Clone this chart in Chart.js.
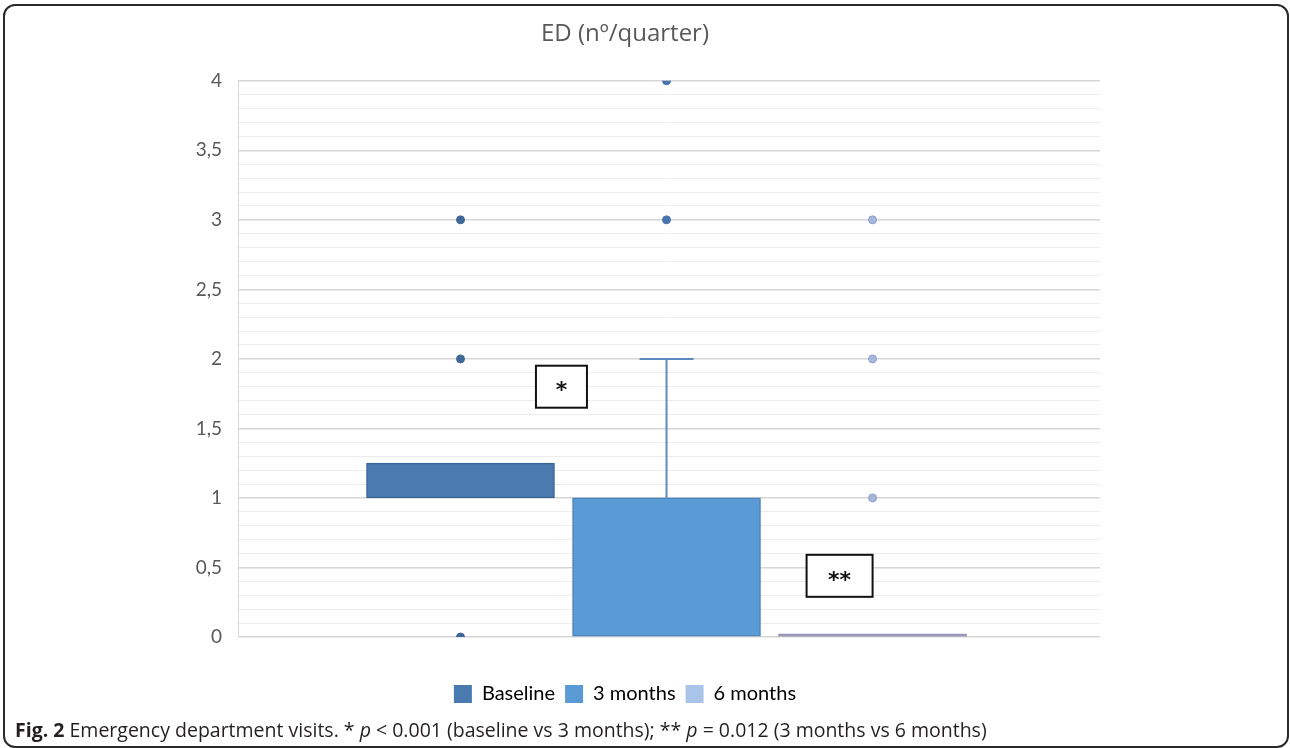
<!DOCTYPE html>
<html>
<head>
<meta charset="utf-8">
<script src="https://cdn.jsdelivr.net/npm/chart.js@4.4.1/dist/chart.umd.min.js"></script>
<style>
  html, body { margin: 0; padding: 0; background: #fff; }
  #wrap { position: relative; width: 1290px; height: 748px; overflow: hidden; }
  #frame { position: absolute; left: 3px; top: 4px; width: 1286px; height: 744px; box-sizing: border-box;
           border: 2px solid #2a2a2a; border-radius: 12px; }
  #box { position: absolute; left: 0; top: 0; width: 1290px; height: 748px; }
  #caption { position: absolute; left: 15px; top: 716px; font: 19.5px "Open Sans", sans-serif; color: #231f20; white-space: nowrap; }
</style>
</head>
<body>
<div id="wrap">
  <div id="frame"></div>
  <div id="box"><canvas id="chart"></canvas></div>
  <div id="caption"><b>Fig. 2</b> Emergency department visits. * <i>p</i> &lt; 0.001 (baseline vs 3 months); ** <i>p</i> = 0.012 (3 months vs 6 months)</div>
</div>
<script>
// ---------- Data ----------
const title = "ED (nº/quarter)";
const categories = ["Baseline", "3 months", "6 months"];
const boxLow = [1, 0, 0];
const boxHigh = [1.25, 1, 0];
const whiskerLow = [null, 1, null];
const whiskerHigh = [null, 2, null];
const outliers = [[0, 2, 3], [3, 4], [1, 2, 3]];
const sigLabels = ["*", "**"];
const sigX = [1.49, 2.84];
const sigY = [1.8, 0.44];

// ---------- Styles ----------
const boxFill = ["#4a7bb0", "#5b9bd5", "#9898ba"];
const boxLine = ["#3b6795", "#4d84bb", "#9898ba"];
const legendFill = ["#4a7bb0", "#5b9bd5", "#a9c4e8"];
const dotFill = ["#3f6897", "#4875ab", "#a7b7da"];
const dotLine = ["#3f6897", "#4875ab", "#8d9fcb"];
const FONT = "Lato, 'Open Sans', sans-serif";

const isMajor = (v) => Math.abs(v * 2 - Math.round(v * 2)) < 1e-6;
const fmtTick = (v) => String(Math.round(v * 10) / 10).replace(".", ",");

// ---------- Plugins ----------
const whiskerPlugin = {
  id: "whiskers",
  afterDatasetsDraw(chart) {
    const { ctx } = chart;
    const y = chart.scales.y;
    categories.forEach((_, i) => {
      if (whiskerLow[i] == null) return;
      const bar = chart.getDatasetMeta(i).data[0];
      if (!bar) return;
      const x = bar.x;
      const y1 = y.getPixelForValue(whiskerLow[i]);
      const y2 = y.getPixelForValue(whiskerHigh[i]);
      ctx.save();
      ctx.strokeStyle = "#5b8bc0";
      ctx.lineWidth = 2;
      ctx.beginPath();
      ctx.moveTo(x, y1); ctx.lineTo(x, y2);
      ctx.moveTo(x - 27, y2); ctx.lineTo(x + 27, y2);
      ctx.stroke();
      ctx.restore();
    });
  }
};

const sigPlugin = {
  id: "sig",
  afterDraw(chart) {
    const { ctx } = chart;
    const xs = chart.scales.x, ys = chart.scales.y;
    sigLabels.forEach((txt, k) => {
      const cx = xs.getPixelForValue(sigX[k]);
      const cy = ys.getPixelForValue(sigY[k]);
      const w = 36 + 15 * txt.length, h = 42;
      ctx.save();
      ctx.fillStyle = "#fff";
      ctx.strokeStyle = "#111";
      ctx.lineWidth = 2;
      ctx.fillRect(cx - w / 2, cy - h / 2, w, h);
      ctx.strokeRect(cx - w / 2, cy - h / 2, w, h);
      ctx.fillStyle = "#111";
      ctx.font = "bold 22px 'DejaVu Sans', sans-serif";
      ctx.textAlign = "center";
      ctx.textBaseline = "middle";
      ctx.fillText(txt, cx, cy + 5);
      ctx.restore();
    });
  }
};

// ---------- Chart ----------
const barSets = categories.map((name, i) => ({
  type: "bar",
  label: name,
  data: [{ x: i + 1, y: [boxLow[i], boxHigh[i]] }],
  backgroundColor: boxFill[i],
  borderColor: boxLine[i],
  borderWidth: i === 2 ? 0 : 1.5,
  borderSkipped: false,
  barThickness: 188,
  grouped: false,
  minBarLength: i === 2 ? 3 : 0,
  order: 2
}));

const dotSets = categories.map((name, i) => ({
  type: "scatter",
  label: name + " outliers",
  data: outliers[i].map((v) => ({ x: i + 1, y: v })),
  pointRadius: 4,
  pointBackgroundColor: dotFill[i],
  pointBorderColor: dotLine[i],
  pointBorderWidth: 1,
  order: 1
}));

new Chart(document.getElementById("chart"), {
  data: { datasets: [...barSets, ...dotSets] },
  options: {
    responsive: true,
    maintainAspectRatio: false,
    animation: false,
    layout: { padding: { top: 20, left: 150, right: 190, bottom: 34 } },
    plugins: {
      tooltip: { enabled: false },
      title: {
        display: true, text: title, color: "#595959",
        font: { family: "'Open Sans', sans-serif", size: 24, weight: "normal" },
        padding: { top: 0, bottom: 32 }
      },
      legend: {
        position: "bottom",
        labels: {
          color: "#595959",
          font: { family: FONT, size: 20 },
          boxWidth: 18, boxHeight: 18, padding: 10,
          generateLabels: () => categories.map((name, i) => ({
            text: name, fillStyle: legendFill[i], strokeStyle: legendFill[i], lineWidth: 0, datasetIndex: i
          }))
        }
      }
    },
    scales: {
      x: {
        type: "linear", min: -0.08, max: 4.104, offset: false,
        grid: { display: false }, border: { display: false },
        ticks: { display: false },
        afterFit: (s) => { s.height = 37; }
      },
      y: {
        min: 0, max: 4,
        afterFit: (s) => { s.width = 88; },
        border: { display: true, color: "#d9d9d9", width: 1 },
        grid: {
          drawTicks: false,
          color: (c) => isMajor(c.tick.value) ? "#d6d6d6" : "#ececec",
          lineWidth: (c) => isMajor(c.tick.value) ? 1.5 : 1
        },
        ticks: {
          stepSize: 0.1, autoSkip: false, padding: 16, color: "#595959",
          font: { family: FONT, size: 19 },
          callback: (v) => isMajor(v) ? fmtTick(v) : ""
        }
      }
    }
  },
  plugins: [whiskerPlugin, sigPlugin]
});
</script>
</body>
</html>
